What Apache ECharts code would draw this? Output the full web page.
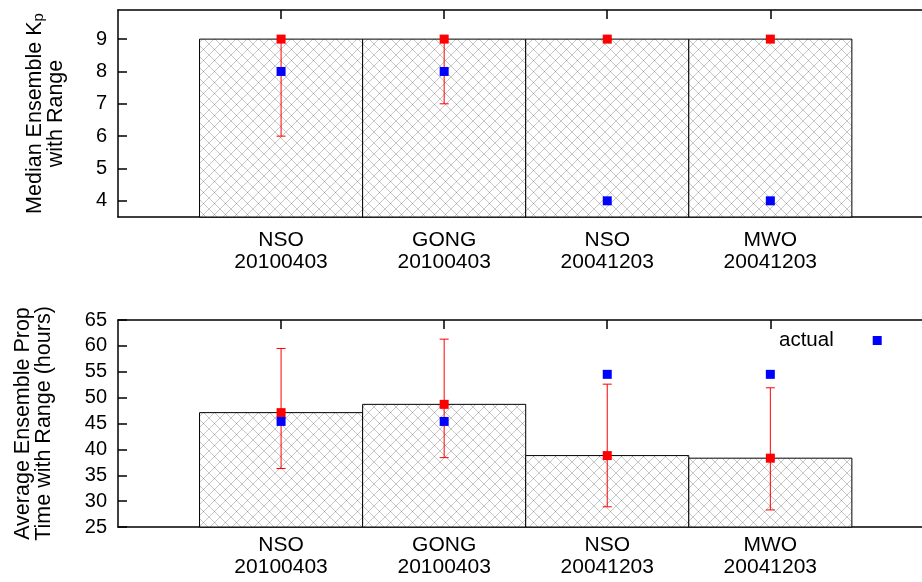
<!DOCTYPE html>
<html>
<head>
<meta charset="utf-8">
<script src="https://cdn.jsdelivr.net/npm/echarts@6/dist/echarts.min.js"></script>
<style>
html,body{margin:0;padding:0;background:#fff;}
#chart{width:922px;height:582px;}
</style>
</head>
<body>
<div id="chart"></div>
<script>
// ---- data ----
var categories = ['NSO\n20100403', 'GONG\n20100403', 'NSO\n20041203', 'MWO\n20041203'];
var catPositions = [1, 2, 3, 4];

var kpMedian = [9, 9, 9, 9];
var kpLow = [6, 7, 9, 9];
var kpHigh = [9, 9, 9, 9];
var kpActual = [8, 8, 4, 4];
var kpTicks = [4, 5, 6, 7, 8, 9];

var propMean = [47.1, 48.7, 38.8, 38.3];
var propLow = [36.3, 38.4, 28.9, 28.3];
var propHigh = [59.5, 61.3, 52.6, 51.9];
var propActual = [45.4, 45.4, 54.5, 54.5];

// ---- helpers ----
var FONT = 'Liberation Sans';
var X_MAX = 4.93;

function makePattern() {
  var s = 11;
  var c = document.createElement('canvas');
  c.width = s; c.height = s;
  var g = c.getContext('2d');
  g.fillStyle = '#ffffff';
  g.fillRect(0, 0, s, s);
  g.strokeStyle = 'rgba(0,0,0,0.22)';
  g.lineWidth = 1;
  g.beginPath();
  g.moveTo(-1, -1); g.lineTo(s + 1, s + 1);
  g.moveTo(s + 1, -1); g.lineTo(-1, s + 1);
  g.stroke();
  return {image: c, repeat: 'repeat'};
}
var hatch = makePattern();

function pairs(xs, ys) { return xs.map(function (x, i) { return [x, ys[i]]; }); }
function triples(xs, a, b) { return xs.map(function (x, i) { return [x, a[i], b[i]]; }); }

function barRender(params, api) {
  var x = api.value(0), y = api.value(1);
  var cs = params.coordSys;
  var p1 = api.coord([x - 0.5, y]);
  var p2 = api.coord([x + 0.5, y]);
  var bottom = cs.y + cs.height;
  return {
    type: 'rect',
    shape: {x: p1[0], y: p1[1], width: p2[0] - p1[0], height: bottom - p1[1]},
    style: {fill: hatch, stroke: '#000', lineWidth: 1}
  };
}
function errRender(params, api) {
  var x = api.value(0);
  var lo = api.coord([x, api.value(1)]);
  var hi = api.coord([x, api.value(2)]);
  var hw = 4.5;
  var st = {stroke: '#ff0000', lineWidth: 1};
  return {
    type: 'group',
    children: [
      {type: 'line', shape: {x1: lo[0], y1: lo[1], x2: hi[0], y2: hi[1]}, style: st},
      {type: 'line', shape: {x1: lo[0] - hw, y1: lo[1], x2: lo[0] + hw, y2: lo[1]}, style: st},
      {type: 'line', shape: {x1: hi[0] - hw, y1: hi[1], x2: hi[0] + hw, y2: hi[1]}, style: st}
    ]
  };
}

var axisLineStyle = {show: true, lineStyle: {color: '#000', width: 1.5}};

function xAxisBottom(gi, margin) {
  return {
    type: 'value', gridIndex: gi, position: 'bottom', min: 0, max: X_MAX,
    axisLine: axisLineStyle,
    splitLine: {show: false},
    axisTick: {show: true, inside: true, length: 9, customValues: catPositions, lineStyle: {color: '#000', width: 1.5}},
    axisLabel: {
      show: true, customValues: catPositions, margin: margin,
      fontFamily: FONT, fontSize: 21, lineHeight: 22, color: '#000', align: 'center',
      formatter: function (v) { return categories[Math.round(v) - 1] || ''; }
    }
  };
}
function xAxisTop(gi) {
  return {
    type: 'value', gridIndex: gi, position: 'top', min: 0, max: X_MAX,
    axisLine: axisLineStyle,
    splitLine: {show: false},
    axisTick: {show: true, inside: true, length: 9, customValues: catPositions, lineStyle: {color: '#000', width: 1.5}},
    axisLabel: {show: false}
  };
}

var option = {
  animation: false,
  backgroundColor: '#fff',
  textStyle: {fontFamily: FONT, color: '#000'},
  grid: [
    {left: 118, top: 10, right: 0, height: 207, show: false},
    {left: 118, top: 320, right: 0, height: 207, show: false}
  ],
  legend: {
    data: ['actual'],
    left: 774, top: 325,
    align: 'right',
    icon: 'rect',
    itemWidth: 9, itemHeight: 9,
    textStyle: {fontFamily: FONT, fontSize: 20.5, color: '#000', padding: [0, 34, 0, 0]}
  },
  xAxis: [xAxisBottom(0, 12), xAxisTop(0), xAxisBottom(1, 7), xAxisTop(1)],
  yAxis: [
    {
      type: 'value', gridIndex: 0, min: 3.5, max: 9.9,
      axisLine: axisLineStyle, splitLine: {show: false},
      axisTick: {show: true, inside: true, length: 9, customValues: kpTicks, lineStyle: {color: '#000', width: 1.5}},
      axisLabel: {show: true, customValues: kpTicks, margin: 11, fontFamily: FONT, fontSize: 20, color: '#000'},
      name: '{a|Median Ensemble K}{sub|p}\n{a|with Range}',
      nameLocation: 'middle', nameRotate: 90, nameGap: 51,
      nameTextStyle: {
        fontFamily: FONT, fontSize: 21.5, color: '#000', lineHeight: 21, align: 'center',
        rich: {
          a: {fontFamily: FONT, fontSize: 21.5, color: '#000', lineHeight: 21},
          sub: {fontFamily: FONT, fontSize: 15, color: '#000', lineHeight: 8, verticalAlign: 'bottom'}
        }
      }
    },
    {
      type: 'value', gridIndex: 1, min: 25, max: 65, interval: 5,
      axisLine: axisLineStyle, splitLine: {show: false},
      axisTick: {show: true, inside: true, length: 9, lineStyle: {color: '#000', width: 1.5}},
      axisLabel: {show: true, margin: 11, fontFamily: FONT, fontSize: 20, color: '#000'},
      name: 'Average Ensemble Prop\nTime with Range (hours)',
      nameLocation: 'middle', nameRotate: 90, nameGap: 63,
      nameTextStyle: {fontFamily: FONT, fontSize: 21.5, color: '#000', lineHeight: 21, align: 'center'}
    }
  ],
  series: [
    {name: 'kpBars', type: 'custom', xAxisIndex: 0, yAxisIndex: 0, renderItem: barRender,
      encode: {x: 0, y: 1}, data: pairs(catPositions, kpMedian), z: 2},
    {name: 'kpRange', type: 'custom', xAxisIndex: 0, yAxisIndex: 0, renderItem: errRender,
      encode: {x: 0, y: [1, 2]}, data: triples(catPositions, kpLow, kpHigh), z: 3},
    {name: 'kpMedian', type: 'scatter', xAxisIndex: 0, yAxisIndex: 0, symbol: 'rect', symbolSize: 9,
      itemStyle: {color: '#ff0000', opacity: 1}, data: pairs(catPositions, kpMedian), z: 4},
    {name: 'actual', type: 'scatter', xAxisIndex: 0, yAxisIndex: 0, symbol: 'rect', symbolSize: 9,
      itemStyle: {color: '#0000ff', opacity: 1}, data: pairs(catPositions, kpActual), z: 5},

    {name: 'propBars', type: 'custom', xAxisIndex: 2, yAxisIndex: 1, renderItem: barRender,
      encode: {x: 0, y: 1}, data: pairs(catPositions, propMean), z: 2},
    {name: 'propRange', type: 'custom', xAxisIndex: 2, yAxisIndex: 1, renderItem: errRender,
      encode: {x: 0, y: [1, 2]}, data: triples(catPositions, propLow, propHigh), z: 3},
    {name: 'propMean', type: 'scatter', xAxisIndex: 2, yAxisIndex: 1, symbol: 'rect', symbolSize: 9,
      itemStyle: {color: '#ff0000', opacity: 1}, data: pairs(catPositions, propMean), z: 4},
    {name: 'actual', type: 'scatter', xAxisIndex: 2, yAxisIndex: 1, symbol: 'rect', symbolSize: 9,
      itemStyle: {color: '#0000ff', opacity: 1}, data: pairs(catPositions, propActual), z: 5}
  ]
};

var chart = echarts.init(document.getElementById('chart'), null, {renderer: 'canvas'});
chart.setOption(option);
</script>
</body>
</html>
